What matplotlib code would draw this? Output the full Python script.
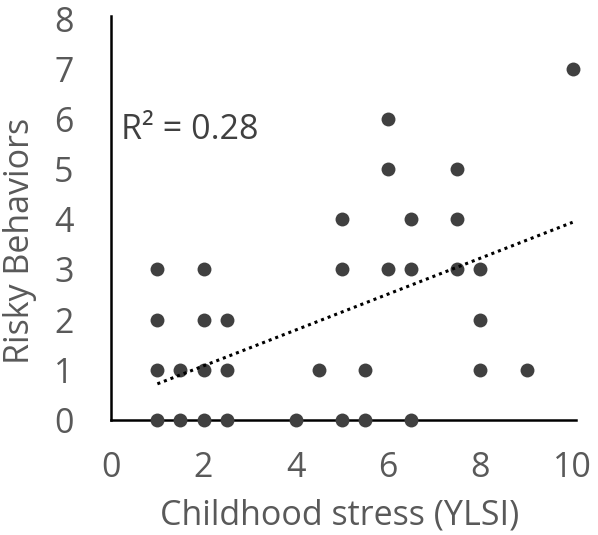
import matplotlib
matplotlib.use("Agg")
import matplotlib.pyplot as plt

x_vals = [1, 1, 1, 1, 1.5, 1.5, 2, 2, 2, 2, 2.5, 2.5, 2.5, 4, 4.5, 5, 5, 5,
          5.5, 5.5, 6, 6, 6, 6.5, 6.5, 6.5, 7.5, 7.5, 7.5, 8, 8, 8, 9, 10]
y_vals = [0, 1, 2, 3, 0, 1, 0, 1, 2, 3, 0, 1, 2, 0, 1, 0, 3, 4,
          0, 1, 3, 5, 6, 0, 3, 4, 3, 4, 5, 1, 2, 3, 1, 7]
trend_x = [1, 10]
trend_y = [0.72, 3.94]
x_ticks = [0, 2, 4, 6, 8, 10]
y_ticks = [0, 1, 2, 3, 4, 5, 6, 7, 8]

plt.rcParams['font.family'] = ['Open Sans', 'DejaVu Sans']
gray = '#595959'
fs = 24.5

fig = plt.figure(figsize=(5.98, 5.35), dpi=100)
ax = fig.add_axes([0.186, 0.215, 0.777, 0.755])
ax.scatter(x_vals, y_vals, s=100, color='#404040', zorder=3, clip_on=False, linewidths=0)
ax.plot(trend_x, trend_y, linestyle=(0, (1, 1.3)), color='black', linewidth=2.2, zorder=4)
ax.set_xlim(0, 10.07)
ax.set_ylim(0, 8.05)
ax.set_xticks(x_ticks)
ax.set_yticks(y_ticks)
ax.tick_params(length=0, labelsize=fs, labelcolor=gray)
ax.tick_params(axis='x', pad=22)
ax.tick_params(axis='y', pad=27)
for s in ['top', 'right']:
    ax.spines[s].set_visible(False)
for s in ['left', 'bottom']:
    ax.spines[s].set_linewidth(1.8)
    ax.spines[s].set_color('black')
fig.text(340 / 598, 1 - 516 / 535, 'Childhood stress (YLSI)', fontsize=fs, color=gray,
         ha='center', va='center')
fig.text(20 / 598, 1 - 241 / 535, 'Risky Behaviors', fontsize=fs, color=gray,
         ha='center', va='center', rotation=90)
ax.text(0.22, 5.78, 'R² = 0.28', fontsize=fs, color='#404040', va='center', ha='left')
fig.savefig('out.png', dpi=100)
